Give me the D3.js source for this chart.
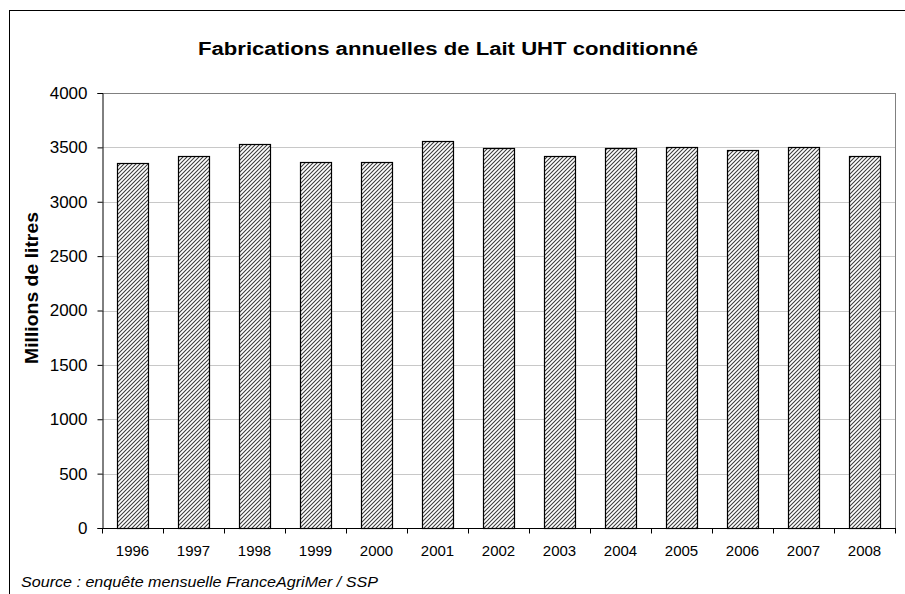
<!DOCTYPE html>
<html>
<head>
<meta charset="utf-8">
<script src="https://cdn.jsdelivr.net/npm/d3@7"></script>
<style>
  body { margin: 0; background: #fff; }
  text { font-family: "Liberation Sans", Arial, sans-serif; fill: #000; }
</style>
</head>
<body>
<div id="chart"></div>
<script>
const years = ["1996", "1997", "1998", "1999", "2000", "2001", "2002", "2003", "2004", "2005", "2006", "2007", "2008"]
const volumes = [3355, 3422, 3530, 3368, 3365, 3560, 3490, 3425, 3490, 3505, 3478, 3505, 3425]
const yTicks = [0, 500, 1000, 1500, 2000, 2500, 3000, 3500, 4000]

const WIDTH = 905
const HEIGHT = 594
const PLOT = {left: 102, right: 895, top: 93, bottom: 528}

const svg = d3.select("#chart")
  .append("svg")
  .attr("width", WIDTH)
  .attr("height", HEIGHT)

// hatch pattern for the bars
const pattern = svg.append("defs")
  .append("pattern")
  .attr("id", "hatch")
  .attr("patternUnits", "userSpaceOnUse")
  .attr("width", 4)
  .attr("height", 4)
pattern.append("rect").attr("width", 4).attr("height", 4).attr("fill", "#fff")
pattern.append("path")
  .attr("d", "M-1,1 l2,-2 M0,4 l4,-4 M3,5 l2,-2")
  .attr("stroke", "#3a3a3a")
  .attr("stroke-width", 1.05)

// outer frame
svg.append("rect")
  .attr("x", 9.5).attr("y", 10.5)
  .attr("width", WIDTH).attr("height", HEIGHT)
  .attr("fill", "none").attr("stroke", "#000").attr("stroke-width", 1)

const x = d3.scaleBand()
  .domain(years)
  .range([PLOT.left, PLOT.right])
  .paddingInner(0.49)
  .paddingOuter(0.245)

const y = d3.scaleLinear()
  .domain([0, 4000])
  .range([PLOT.bottom, PLOT.top])

// grid lines
svg.append("g")
  .selectAll("line.grid")
  .data(yTicks.filter((d) => d > 0))
  .enter()
  .append("line")
  .classed("grid", true)
  .attr("x1", PLOT.left)
  .attr("x2", PLOT.right)
  .attr("y1", (d) => Math.round(y(d)) + 0.5)
  .attr("y2", (d) => Math.round(y(d)) + 0.5)
  .attr("stroke", (d) => d === 4000 ? "#808080" : "#c8c8c8")
  .attr("stroke-width", 1)

// right border of plot area
svg.append("line")
  .attr("x1", PLOT.right + 0.5).attr("x2", PLOT.right + 0.5)
  .attr("y1", PLOT.top).attr("y2", PLOT.bottom)
  .attr("stroke", "#808080")

// bars
svg.append("g")
  .selectAll("rect.bar")
  .data(volumes)
  .enter()
  .append("rect")
  .classed("bar", true)
  .attr("x", (_, i) => Math.round(x(years[i])) + 0.5)
  .attr("y", (d) => Math.round(y(d)) + 0.5)
  .attr("width", Math.round(x.bandwidth()))
  .attr("height", (d) => Math.round(y(0)) - Math.round(y(d)))
  .attr("fill", "url(#hatch)")
  .attr("stroke", "#000")
  .attr("stroke-width", 1.2)

// y axis
const yAxis = svg.append("g")
  .attr("transform", `translate(${PLOT.left + 0.5},0)`)
  .call(d3.axisLeft(y).tickValues(yTicks).tickFormat(d3.format("d")).tickSize(5).tickPadding(10))
yAxis.select(".domain").attr("stroke", "#000")
yAxis.selectAll(".tick line").attr("stroke", "#000")
yAxis.selectAll(".tick text")
  .attr("font-size", "17px")
  .attr("font-family", "Liberation Sans, Arial, sans-serif")

// x axis
const xAxis = svg.append("g")
  .attr("transform", `translate(0,${Math.round(PLOT.bottom) + 0.5})`)
const xLine = d3.scaleLinear().domain([0, years.length]).range([PLOT.left, PLOT.right])
xAxis.append("line")
  .attr("x1", PLOT.left).attr("x2", PLOT.right + 1)
  .attr("stroke", "#000")
xAxis.selectAll("line.xtick")
  .data(d3.range(years.length + 1))
  .enter()
  .append("line")
  .classed("xtick", true)
  .attr("x1", (d) => Math.round(xLine(d)) + 0.5)
  .attr("x2", (d) => Math.round(xLine(d)) + 0.5)
  .attr("y1", 0)
  .attr("y2", 5)
  .attr("stroke", "#000")
xAxis.selectAll("text.year")
  .data(years)
  .enter()
  .append("text")
  .classed("year", true)
  .text((d) => d)
  .attr("x", (d) => x(d) + x.bandwidth() / 2)
  .attr("y", 27.5)
  .attr("text-anchor", "middle")
  .attr("font-size", "15px")

// labels
svg.append("text")
  .text("Fabrications annuelles de Lait UHT conditionné")
  .attr("x", 448)
  .attr("y", 55)
  .attr("text-anchor", "middle")
  .attr("font-weight", "bold")
  .attr("font-size", "18px")
  .attr("textLength", 500)
  .attr("lengthAdjust", "spacingAndGlyphs")

svg.append("text")
  .text("Millions de litres")
  .attr("transform", "translate(38,288) rotate(-90)")
  .attr("text-anchor", "middle")
  .attr("font-weight", "bold")
  .attr("font-size", "18px")
  .attr("textLength", 152)
  .attr("lengthAdjust", "spacingAndGlyphs")

svg.append("text")
  .text("Source : enquête mensuelle FranceAgriMer / SSP")
  .attr("x", 21)
  .attr("y", 587)
  .attr("font-style", "italic")
  .attr("font-size", "15.5px")
  .attr("textLength", 357)
  .attr("lengthAdjust", "spacingAndGlyphs")
</script>
</body>
</html>
